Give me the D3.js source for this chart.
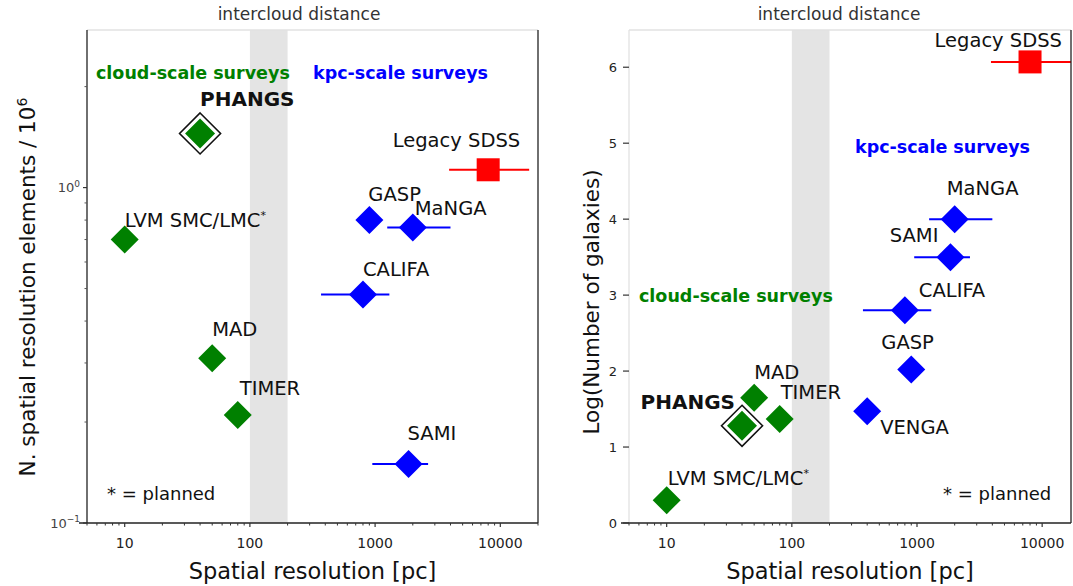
<!DOCTYPE html>
<html>
<head>
<meta charset="utf-8">
<script src="https://cdn.jsdelivr.net/npm/d3@7"></script>
<style>
  body { margin: 0; background: #fff; }
  svg { display: block; font-family: "DejaVu Sans", sans-serif; }
</style>
</head>
<body>
<div id="chart"></div>
<script>
// --- DATA ---
const surveys    = ["PHANGS", "LVM SMC/LMC", "MAD", "TIMER", "GASP", "MaNGA", "CALIFA", "SAMI", "VENGA", "Legacy SDSS"];
const scaleType  = ["cloud", "cloud", "cloud", "cloud", "kpc", "kpc", "kpc", "kpc", "kpc", "legacy"];
const planned    = [false, true, false, false, false, false, false, false, false, false];
// spatial resolution [pc] and its range (null = no error bar)
const resolution = [40, 10, 50, 80, 900, 2000, 800, 1850, 400, 8000];
const resLow     = [null, null, null, null, null, 1250, 370, 950, null, 3900];
const resHigh    = [null, null, null, null, null, 4000, 1300, 2650, null, 17000];
// N. spatial resolution elements / 1e6 (VENGA not shown on the left panel)
const nElements  = [1.45, 0.70, 0.31, 0.21, 0.80, 0.76, 0.48, 0.15, null, 1.13];
// log10(number of galaxies)
const logNgal    = [1.28, 0.30, 1.65, 1.37, 2.02, 4.0, 2.80, 3.5, 1.47, 6.07];

const xTicks      = [10, 100, 1000, 10000];
const yTicksRight = [0, 1, 2, 3, 4, 5, 6];
const band        = [100, 200];   // intercloud distance

// --- CONFIG ---
const W = 1073, H = 586;
const colors = { cloud: "#008000", kpc: "#0000ff", legacy: "#ff0000" };

// label placement: [dx, dy(center), anchor]
const leftLabelPos = {
  "PHANGS": [0, -34, "start"], "LVM SMC/LMC": [0, -19, "start"], "MAD": [0, -29, "start"],
  "TIMER": [2, -27, "start"], "GASP": [-1, -26, "start"], "MaNGA": [2, -19, "start"],
  "CALIFA": [0, -25, "start"], "SAMI": [-1, -31, "start"], "Legacy SDSS": [32, -30, "end"]
};
const rightLabelPos = {
  "PHANGS": [-7, -24, "end"], "LVM SMC/LMC": [1, -22, "start"], "MAD": [0, -25, "start"],
  "TIMER": [1, -27, "start"], "GASP": [-30, -27, "start"], "MaNGA": [-8, -31, "start"],
  "CALIFA": [14, -20, "start"], "SAMI": [-12, -22, "end"], "VENGA": [13, 16, "start"],
  "Legacy SDSS": [32, -22, "end"]
};

const svg = d3.select("#chart").append("svg")
  .attr("width", W).attr("height", H)
  .attr("viewBox", [0, 0, W, H]);
svg.append("rect").attr("width", W).attr("height", H).attr("fill", "#fff");

function diamond(cx, cy, r) {
  return `M${cx},${cy - r}L${cx + r},${cy}L${cx},${cy + r}L${cx - r},${cy}Z`;
}

function drawPanel(opts) {
  const { x0, x1, y0, y1, yScale, yVals, labelPos } = opts;
  const x = d3.scaleLog().domain([5, opts.xMax]).range([x0, x1]);
  const y = yScale.range([y1, y0]);
  const g = svg.append("g");

  // intercloud band
  g.append("rect")
    .attr("x", x(band[0])).attr("width", x(band[1]) - x(band[0]))
    .attr("y", y0).attr("height", y1 - y0)
    .attr("fill", "#e4e4e4");
  svg.append("text")
    .attr("x", opts.bandTitleX).attr("y", 14).attr("dy", "0.35em")
    .attr("text-anchor", "middle").attr("font-size", 17).attr("fill", "#333")
    .text("intercloud distance");

  const rows = surveys.map((s, i) => ({
    name: s, type: scaleType[i], planned: planned[i],
    x: resolution[i], lo: resLow[i], hi: resHigh[i], y: yVals[i]
  })).filter(d => d.y != null);

  // error bars
  g.selectAll("line.err").data(rows.filter(d => d.lo != null)).join("line")
    .attr("class", "err")
    .attr("x1", d => x(d.lo)).attr("x2", d => x(d.hi))
    .attr("y1", d => y(d.y)).attr("y2", d => y(d.y))
    .attr("stroke", d => colors[d.type]).attr("stroke-width", 2);

  // markers
  rows.forEach(d => {
    const cx = x(d.x), cy = y(d.y);
    if (d.type === "legacy") {
      g.append("rect").attr("x", cx - 11.5).attr("y", cy - 11.5)
        .attr("width", 23).attr("height", 23).attr("fill", colors.legacy);
    } else if (d.name === "PHANGS") {
      g.append("path").attr("d", diamond(cx, cy, 20.5))
        .attr("fill", "#fff").attr("stroke", "#111").attr("stroke-width", 1.6);
      g.append("path").attr("d", diamond(cx, cy, 15)).attr("fill", colors.cloud);
    } else {
      g.append("path").attr("d", diamond(cx, cy, 14)).attr("fill", colors[d.type]);
    }
  });

  // survey labels
  rows.forEach(d => {
    const p = labelPos[d.name];
    if (!p) return;
    const t = g.append("text")
      .attr("x", x(d.x) + p[0]).attr("y", y(d.y) + p[1]).attr("dy", "0.35em")
      .attr("text-anchor", p[2])
      .attr("font-size", d.name === "PHANGS" ? 20 : 19.5)
      .attr("font-weight", d.name === "PHANGS" ? "bold" : "normal")
      .attr("fill", "#111");
    t.append("tspan").text(d.name);
    if (d.planned) t.append("tspan").attr("font-size", 11).attr("dy", "-0.75em").text("*");
  });

  // group captions
  opts.captions.forEach(c => {
    g.append("text").attr("x", c.x).attr("y", c.y).attr("dy", "0.35em")
      .attr("font-size", 17.5).attr("font-weight", "bold").attr("fill", c.color)
      .text(c.text);
  });
  g.append("text").attr("x", opts.plannedX).attr("y", 494).attr("dy", "0.35em")
    .attr("font-size", 18).attr("fill", "#111").text("* = planned");

  // spines
  const sp = (xa, ya, xb, yb, c) => g.append("line")
    .attr("x1", xa).attr("y1", ya).attr("x2", xb).attr("y2", yb)
    .attr("stroke", c).attr("stroke-width", 1.3);
  sp(x0, y0, x1, y0, "#e2e2e2");
  sp(x0, y0, x0, y1, opts.leftSpine);
  sp(x1, y0, x1, y1, "#222");
  sp(x0 - 8, y1, x1, y1, "#222");

  // x ticks
  const minor = [];
  for (let dec = 1; dec <= 10000; dec *= 10)
    for (let m = 2; m <= 9; m++) { const v = m * dec; if (v >= 5 && v <= opts.xMax) minor.push(v); }
  g.selectAll("line.xminor").data(minor).join("line")
    .attr("x1", d => x(d)).attr("x2", d => x(d))
    .attr("y1", y1).attr("y2", y1 + 2.5).attr("stroke", "#333").attr("stroke-width", 1);
  g.selectAll("line.xmajor").data(xTicks).join("line")
    .attr("x1", d => x(d)).attr("x2", d => x(d))
    .attr("y1", y1).attr("y2", y1 + 4).attr("stroke", "#333").attr("stroke-width", 1.2);
  g.selectAll("text.xtick").data(xTicks).join("text")
    .attr("x", d => x(d)).attr("y", y1 + 20).attr("dy", "0.35em")
    .attr("text-anchor", "middle").attr("font-size", 14).attr("fill", "#222")
    .text(d => d);

  // y ticks
  opts.yTicks(g, y);

  // axis titles
  svg.append("text")
    .attr("x", (x0 + x1) / 2).attr("y", 571).attr("dy", "0.35em")
    .attr("text-anchor", "middle").attr("font-size", 22.5).attr("fill", "#111")
    .text("Spatial resolution [pc]");
  const yl = svg.append("text")
    .attr("transform", `translate(${opts.yLabelX},${opts.yLabelY}) rotate(-90)`)
    .attr("dy", "0.35em").attr("text-anchor", "middle")
    .attr("font-size", 21.5).attr("fill", "#111");
  opts.yLabel(yl);
}

// --- LEFT PANEL ---
drawPanel({
  x0: 87, x1: 538, y0: 30, y1: 523, xMax: 20000,
  yScale: d3.scaleLog().domain([0.1, 2.95]),
  yVals: nElements, labelPos: leftLabelPos,
  bandTitleX: 299, plannedX: 107, leftSpine: "#222",
  yLabelX: 27, yLabelY: 287,
  captions: [
    { x: 96, y: 73, text: "cloud-scale surveys", color: colors.cloud },
    { x: 313, y: 73, text: "kpc-scale surveys", color: colors.kpc }
  ],
  yTicks: (g, y) => {
    const minor = [0.2, 0.3, 0.4, 0.5, 0.6, 0.7, 0.8, 0.9, 2];
    g.selectAll("line.yminor").data(minor).join("line")
      .attr("x1", 87).attr("x2", 84.5).attr("y1", d => y(d)).attr("y2", d => y(d))
      .attr("stroke", "#555").attr("stroke-width", 1);
    const major = [{ v: 1, e: "0" }, { v: 0.1, e: "\u22121" }];
    g.selectAll("line.ymajor").data(major).join("line")
      .attr("x1", 87).attr("x2", 83).attr("y1", d => y(d.v)).attr("y2", d => y(d.v))
      .attr("stroke", "#333").attr("stroke-width", 1.2);
    const t = g.selectAll("text.ytick").data(major).join("text")
      .attr("x", 80).attr("y", d => y(d.v)).attr("dy", "0.35em")
      .attr("text-anchor", "end").attr("font-size", 13).attr("fill", "#444");
    t.append("tspan").text("10");
    t.append("tspan").attr("font-size", 9).attr("dy", "-0.6em").text(d => d.e);
  },
  yLabel: t => {
    t.append("tspan").text("N. spatial resolution elements / 10");
    t.append("tspan").attr("font-size", 14).attr("dy", "-0.55em").text("6");
  }
});

// --- RIGHT PANEL ---
drawPanel({
  x0: 629, x1: 1071, y0: 30, y1: 523, xMax: 17000,
  yScale: d3.scaleLinear().domain([0, 6.49]),
  yVals: logNgal, labelPos: rightLabelPos,
  bandTitleX: 839, plannedX: 943, leftSpine: "#e2e2e2",
  yLabelX: 591, yLabelY: 302,
  captions: [
    { x: 639, y: 296, text: "cloud-scale surveys", color: colors.cloud },
    { x: 855, y: 147, text: "kpc-scale surveys", color: colors.kpc }
  ],
  yTicks: (g, y) => {
    g.selectAll("line.ymajor").data(yTicksRight).join("line")
      .attr("x1", 629).attr("x2", 623).attr("y1", d => y(d)).attr("y2", d => y(d))
      .attr("stroke", "#333").attr("stroke-width", 1.2);
    g.selectAll("text.ytick").data(yTicksRight).join("text")
      .attr("x", 617).attr("y", d => y(d)).attr("dy", "0.35em")
      .attr("text-anchor", "end").attr("font-size", 13).attr("fill", "#222")
      .text(d => d);
  },
  yLabel: t => t.text("Log(Number of galaxies)")
});
</script>
</body>
</html>
